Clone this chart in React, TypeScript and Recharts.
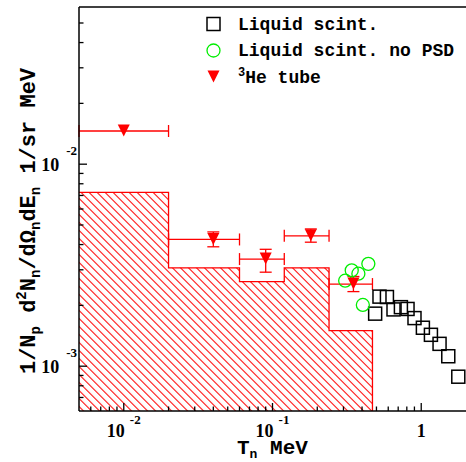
import React from "react";
import {
  ComposedChart,
  Area,
  Scatter,
  ErrorBar,
  XAxis,
  YAxis,
  ReferenceLine,
  Legend,
} from "recharts";

// hatched histogram (bin edges and heights)
const histEdges = [0.005, 0.02, 0.06, 0.12, 0.24, 0.47];
const histValues = [0.00725, 0.00307, 0.00262, 0.00307, 0.0015];

// Liquid scint.
const lsX = [0.49, 0.524, 0.588, 0.651, 0.73, 0.809, 0.901, 1.026, 1.162, 1.328, 1.52, 1.775];
const lsY = [0.00182, 0.00221, 0.0022, 0.00191, 0.00196, 0.00192, 0.00173, 0.00155, 0.00143, 0.00129, 0.00112, 0.000887];

// Liquid scint. no PSD
const psdX = [0.308, 0.341, 0.378, 0.405, 0.441];
const psdY = [0.00265, 0.00298, 0.00287, 0.00201, 0.00321];

// 3He tube
const heX = [0.01, 0.04, 0.09, 0.181, 0.35];
const heY = [0.0146, 0.00424, 0.00339, 0.00442, 0.00255];
const heXLo = [0.005, 0.02, 0.06, 0.12, 0.24];
const heXHi = [0.02, 0.06, 0.12, 0.24, 0.47];
const heYLo = [null, 0.0039, 0.00292, 0.00411, 0.00234];
const heYHi = [null, 0.00462, 0.00379, 0.00478, 0.00278];

const xTicks = [
  0.006, 0.007, 0.008, 0.009, 0.01, 0.02, 0.03, 0.04, 0.05, 0.06, 0.07, 0.08, 0.09,
  0.1, 0.2, 0.3, 0.4, 0.5, 0.6, 0.7, 0.8, 0.9, 1,
];
const yTicks = [
  0.0007, 0.0008, 0.0009, 0.001, 0.002, 0.003, 0.004, 0.005, 0.006, 0.007, 0.008, 0.009,
  0.01, 0.02, 0.03, 0.04, 0.05,
];

const X_MIN = 0.005;
const X_MAX = 2;
const Y_MIN = 0.0006;
const Y_MAX = 0.06;

const histData = histEdges.map((x, i) => ({
  x,
  y: i < histValues.length ? histValues[i] : Y_MIN,
}));
const lsData = lsX.map((x, i) => ({ x, y: lsY[i] }));
const psdData = psdX.map((x, i) => ({ x, y: psdY[i] }));
const heData = heX.map((x, i) => ({
  x,
  y: heY[i],
  xErr: [x - heXLo[i], heXHi[i] - x],
  yErr: heYLo[i] == null ? null : [heY[i] - heYLo[i], heYHi[i] - heY[i]],
}));

const RED = "#ff0000";
const GREEN = "#00ee00";
const tickFont = '"Liberation Serif", "Times New Roman", serif';
const monoFont = '"Liberation Mono", "Courier New", monospace';

const isDecade = (v: number) => {
  const lg = Math.log10(v);
  return Math.abs(lg - Math.round(lg)) < 1e-6;
};

const XTick = (props: any) => {
  const { x, y, payload } = props;
  const major = isDecade(payload.value);
  const e = Math.round(Math.log10(payload.value));
  return (
    <g>
      <line x1={x} x2={x} y1={y} y2={y - (major ? 8 : 4.5)} stroke="#000" strokeWidth={1.3} />
      {major && (
        <text x={x} y={y + 26} textAnchor="middle" fontFamily={tickFont} fontWeight="bold" fontSize={18}>
          {e === 0 ? (
            "1"
          ) : (
            <>
              <tspan>10</tspan>
              <tspan dx={5} dy={-13} fontSize={13}>{e}</tspan>
            </>
          )}
        </text>
      )}
    </g>
  );
};

const YTick = (props: any) => {
  const { x, y, payload } = props;
  const major = isDecade(payload.value);
  const e = Math.round(Math.log10(payload.value));
  return (
    <g>
      <line x1={x} x2={x + (major ? 8 : 4.5)} y1={y} y2={y} stroke="#000" strokeWidth={1.3} />
      {major && (
        <text x={x - 2} y={y + 7} textAnchor="end" fontFamily={tickFont} fontWeight="bold" fontSize={18}>
          <tspan>10</tspan>
          <tspan dx={7} dy={-16} fontSize={13}>{e}</tspan>
        </text>
      )}
    </g>
  );
};

const Square = ({ cx, cy }: any) => (
  <rect x={cx - 6.5} y={cy - 6.5} width={13} height={13} fill="none" stroke="#000" strokeWidth={1.5} />
);
const Circle = ({ cx, cy }: any) => (
  <circle cx={cx} cy={cy} r={6.5} fill="none" stroke={GREEN} strokeWidth={1.3} />
);
const TriDown = ({ cx, cy }: any) => (
  <path d={`M${cx - 6},${cy - 6.5}L${cx + 6},${cy - 6.5}L${cx},${cy + 5.5}Z`} fill={RED} />
);

const legendItems = [
  { label: "Liquid scint.", Marker: Square },
  { label: "Liquid scint. no PSD", Marker: Circle },
  { label: "He tube", Marker: TriDown, sup: "3" },
];

const LegendBox = () => (
  <svg width={266} height={90}>
    {legendItems.map((it, i) => {
      const cy = 16 + i * 26.5;
      const M = it.Marker;
      return (
        <g key={it.label}>
          <M cx={13.5} cy={cy} />
          <text x={38} y={cy + 5.5} fontFamily={monoFont} fontWeight="bold" fontSize={18}>
            {it.sup && (
              <tspan fontSize={12} dy={-7}>{it.sup}</tspan>
            )}
            <tspan dy={it.sup ? 7 : 0}>{it.label}</tspan>
          </text>
        </g>
      );
    })}
  </svg>
);

const XTitle = () => (
  <text x={237} y={454} fontFamily={monoFont} fontWeight="bold" fontSize={21}>
    <tspan>T</tspan>
    <tspan fontSize={13} dy={4}>n</tspan>
    <tspan dy={-4}>{" MeV"}</tspan>
  </text>
);

const YTitle = () => (
  <text
    x={0}
    y={0}
    transform="translate(35,221) rotate(-90)"
    textAnchor="middle"
    fontFamily={monoFont}
    fontWeight="bold"
    fontSize={22}
  >
    <tspan>1/N</tspan>
    <tspan fontSize={14} dy={5}>p</tspan>
    <tspan dy={-5}>{" d"}</tspan>
    <tspan fontSize={14} dy={-9}>2</tspan>
    <tspan dy={9}>N</tspan>
    <tspan fontSize={14} dy={5}>n</tspan>
    <tspan dy={-5}>/dΩ</tspan>
    <tspan fontSize={14} dy={5}>n</tspan>
    <tspan dy={-5}>dE</tspan>
    <tspan fontSize={14} dy={5}>n</tspan>
    <tspan dy={-5}>{"  1/sr  MeV"}</tspan>
  </text>
);

export default function App() {
  return (
    <div style={{ position: "absolute", left: 0, top: 0, background: "#fff" }}>
      <ComposedChart width={466} height={462} margin={{ top: 7, right: 0, bottom: 0, left: 0 }}>
        <defs>
          <pattern id="hatch" patternUnits="userSpaceOnUse" width={5.66} height={5.66} patternTransform="rotate(-45)">
            <line x1={0.5} y1={0} x2={0.5} y2={5.66} stroke={RED} strokeWidth={1.1} />
          </pattern>
        </defs>
        <XAxis
          dataKey="x"
          type="number"
          scale="log"
          domain={[X_MIN, X_MAX]}
          allowDataOverflow
          ticks={xTicks}
          interval={0}
          tickSize={0}
          tickMargin={0}
          tickLine={false}
          tick={XTick}
          axisLine={{ stroke: "#000", strokeWidth: 1.5 }}
          height={51}
          label={{ content: XTitle }}
        />
        <YAxis
          dataKey="y"
          type="number"
          scale="log"
          domain={[Y_MIN, Y_MAX]}
          allowDataOverflow
          ticks={yTicks}
          interval={0}
          tickSize={0}
          tickMargin={0}
          tickLine={false}
          tick={YTick}
          axisLine={{ stroke: "#000", strokeWidth: 1.5 }}
          width={79}
          label={{ content: YTitle }}
        />
        <ReferenceLine y={Y_MAX} stroke="#000" strokeWidth={1.5} />
        <Area
          data={histData}
          dataKey="y"
          type="stepAfter"
          baseValue={Y_MIN}
          stroke={RED}
          strokeWidth={1.3}
          fill="url(#hatch)"
          fillOpacity={1}
          isAnimationActive={false}
          dot={false}
          activeDot={false}
        />
        <Scatter data={lsData} dataKey="y" shape={Square} isAnimationActive={false} />
        <Scatter data={psdData} dataKey="y" shape={Circle} isAnimationActive={false} />
        <Scatter data={heData} dataKey="y" shape={TriDown} isAnimationActive={false}>
          <ErrorBar dataKey="xErr" direction="x" width={6} stroke={RED} strokeWidth={1.3} />
          <ErrorBar dataKey="yErr" direction="y" width={6} stroke={RED} strokeWidth={1.3} />
        </Scatter>
        <Legend
          layout="vertical"
          align="center"
          verticalAlign="middle"
          wrapperStyle={{ left: 200, top: 8, width: 266, height: 90 }}
          content={LegendBox}
        />
      </ComposedChart>
    </div>
  );
}
